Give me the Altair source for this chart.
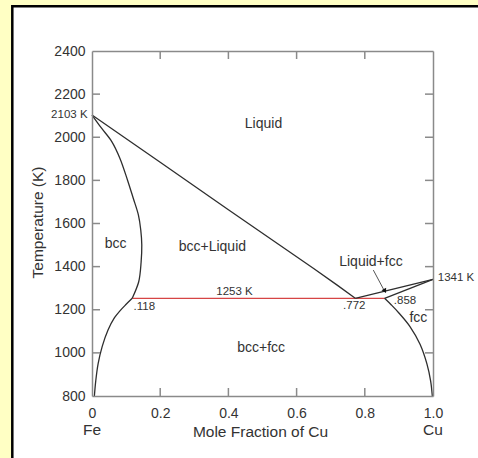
import altair as alt
import pandas as pd

# ---------------- data ----------------
# Liquidus (Fe side): from Fe melting point to eutectic liquid composition
liq_left_x = [0.0, 0.2, 0.4, 0.55, 0.65, 0.72, 0.772]
liq_left_t = [2103, 1884, 1664, 1500, 1391, 1313, 1253]

# bcc solidus (above the isotherm)
bcc_sol_x = [0.0, 0.028, 0.058, 0.082, 0.104, 0.121, 0.136, 0.143, 0.146, 0.144, 0.137, 0.118]
bcc_sol_t = [2103, 2042, 1980, 1902, 1802, 1717, 1640, 1570, 1500, 1420, 1330, 1253]

# bcc solvus (below the isotherm)
bcc_solv_x = [0.118, 0.098, 0.082, 0.066, 0.047, 0.030, 0.018, 0.011, 0.007]
bcc_solv_t = [1253, 1222, 1195, 1163, 1106, 1030, 950, 870, 800]

# Cu side liquidus and solidus
liq_right_x = [0.772, 1.0]
liq_right_t = [1253, 1341]
sol_right_x = [0.858, 1.0]
sol_right_t = [1253, 1341]

# fcc solvus
fcc_x = [0.858, 0.878, 0.900, 0.933, 0.962, 0.982, 0.993, 0.998]
fcc_t = [1253, 1222, 1185, 1121, 1040, 950, 870, 800]

# eutectic (peritectic) isotherm
iso_x = [0.118, 0.858]
iso_t = [1253, 1253]

# arrow from "Liquid+fcc" label
arrow_x = [0.825, 0.856]
arrow_t = [1384, 1292]
arrow_head_x = [0.859]
arrow_head_t = [1287]

# region labels
region_labels = ["Liquid", "bcc", "bcc+Liquid", "bcc+fcc", "Liquid+fcc", "fcc"]
region_x = [0.503, 0.069, 0.353, 0.496, 0.818, 0.957]
region_t = [2061, 1504, 1492, 1021, 1423, 1160]

# point labels
pt_labels = ["2103 K", "1341 K", "1253 K", ".118", ".772", ".858"]
pt_x = [-0.013, 1.014, 0.418, 0.122, 0.769, 0.918]
pt_t = [2103, 1345, 1284, 1211, 1218, 1241]
pt_align = ["right", "left", "center", "left", "center", "center"]

# end labels
end_labels = ["Fe", "Cu"]
end_x = [0.0, 1.0]

# axis ticks
x_ticks = [0.0, 0.2, 0.4, 0.6, 0.8, 1.0]
x_inner_ticks = [0.2, 0.4, 0.6, 0.8]
y_ticks = [800, 1000, 1200, 1400, 1600, 1800, 2000, 2200, 2400]
y_inner_ticks = [1000, 1200, 1400, 1600, 1800, 2000, 2200]

# ---------------- build ----------------
W, H = 341, 345
TEXT = "#333333"
AXIS = "#8a8a8a"
CURVE = "#2e2e2e"
FONT = "Liberation Sans"

xs = alt.Scale(domain=[0, 1], nice=False, zero=False)
ys = alt.Scale(domain=[800, 2400], nice=False, zero=False)


def X(field="x", axis=None):
    return alt.X(f"{field}:Q", scale=xs, axis=axis)


def Y(field="t", axis=None):
    return alt.Y(f"{field}:Q", scale=ys, axis=axis)


def curve_df(pairs):
    rows = []
    for name, xl, tl in pairs:
        for i, (a, b) in enumerate(zip(xl, tl)):
            rows.append({"curve": name, "i": i, "x": a, "t": b})
    return pd.DataFrame(rows)


straight_df = curve_df([("liq_left", liq_left_x, liq_left_t),
                        ("liq_right", liq_right_x, liq_right_t),
                        ("sol_right", sol_right_x, sol_right_t)])
smooth_df = curve_df([("bcc_sol", bcc_sol_x, bcc_sol_t),
                      ("bcc_solv", bcc_solv_x, bcc_solv_t),
                      ("fcc", fcc_x, fcc_t)])

frame = alt.Chart(pd.DataFrame({"a": [0]})).mark_rect(
    fill="white", stroke="#000000", strokeWidth=2.5
).encode(x=alt.value(-79.7), x2=alt.value(W + 200), y=alt.value(-44.8), y2=alt.value(H + 200))

iso = alt.Chart(pd.DataFrame({"x": iso_x, "t": iso_t})).mark_line(
    color="#d64545", strokeWidth=1.2
).encode(x=X(), y=Y())

straight = alt.Chart(straight_df).mark_line(color=CURVE, strokeWidth=1.3).encode(
    x=X(), y=Y(), detail="curve:N", order="i:Q"
)

smooth = alt.Chart(smooth_df).mark_line(color=CURVE, strokeWidth=1.3, interpolate="catmull-rom").encode(
    x=X(), y=Y(), detail="curve:N", order="i:Q"
)

arrow = alt.Chart(pd.DataFrame({"x": arrow_x, "t": arrow_t})).mark_line(
    color="#555555", strokeWidth=1
).encode(x=X(), y=Y())

arrow_head = alt.Chart(pd.DataFrame({"x": arrow_head_x, "t": arrow_head_t})).mark_point(
    shape="triangle-down", filled=True, size=28, angle=331, color="#111111", opacity=1
).encode(x=X(), y=Y())

regions = alt.Chart(pd.DataFrame({"label": region_labels, "x": region_x, "t": region_t})).mark_text(
    font=FONT, fontSize=14, color=TEXT, align="center", baseline="middle"
).encode(x=X(), y=Y(), text="label:N")

pts_df = pd.DataFrame({"label": pt_labels, "x": pt_x, "t": pt_t, "align": pt_align})
pt_layers = []
for al in ["left", "center", "right"]:
    sub = pts_df[pts_df["align"] == al]
    pt_layers.append(
        alt.Chart(sub).mark_text(font=FONT, fontSize=11.5, color=TEXT, align=al, baseline="middle")
        .encode(x=X(), y=Y(), text="label:N")
    )

ends = alt.Chart(pd.DataFrame({"label": end_labels, "x": end_x})).mark_text(
    font=FONT, fontSize=15.5, color=TEXT, align="center", baseline="middle"
).encode(x=X(), y=alt.value(378.5), text="label:N")

common_axis = dict(domainColor=AXIS, domainWidth=1.5, ticks=False, tickSize=0, grid=False, zindex=1)

bottom_ticks = alt.Chart(pd.DataFrame({"x": x_inner_ticks})).mark_rule(color=AXIS, strokeWidth=1.5).encode(
    x=X(axis=alt.Axis(orient="bottom", values=x_ticks,
                      labelExpr="datum.value == 0 ? '0' : format(datum.value, '.1f')",
                      labelFont=FONT, labelFontSize=14, labelColor=TEXT, labelPadding=10,
                      labelFlush=False, title="Mole Fraction of Cu", titleFont=FONT,
                      titleFontSize=15.5, titleFontWeight="normal", titleColor=TEXT,
                      titleX=168, titleY=35, titleBaseline="middle", titleAlign="center",
                      **common_axis)),
    y=alt.value(H), y2=alt.value(H - 8),
)

top_ticks = alt.Chart(pd.DataFrame({"x": x_inner_ticks})).mark_rule(color=AXIS, strokeWidth=1.5).encode(
    x=X(axis=alt.Axis(orient="top", labels=False, title="", **common_axis)),
    y=alt.value(0), y2=alt.value(8),
)

left_ticks = alt.Chart(pd.DataFrame({"t": y_inner_ticks})).mark_rule(color=AXIS, strokeWidth=1.5).encode(
    y=Y(axis=alt.Axis(orient="left", values=y_ticks, format="d",
                      labelFont=FONT, labelFontSize=14, labelColor=TEXT, labelPadding=7,
                      labelFlush=False, title="Temperature (K)", titleFont=FONT,
                      titleFontSize=15.5, titleFontWeight="normal", titleColor=TEXT,
                      titleAngle=270, titleX=-55, titleY=171, titleBaseline="middle",
                      titleAlign="center", **common_axis)),
    x=alt.value(0), x2=alt.value(8),
)

right_ticks = alt.Chart(pd.DataFrame({"t": y_inner_ticks})).mark_rule(color=AXIS, strokeWidth=1.5).encode(
    y=Y(axis=alt.Axis(orient="right", labels=False, title="", **common_axis)),
    x=alt.value(W), x2=alt.value(W - 8),
)

chart = alt.layer(
    frame, iso, straight, smooth, arrow, arrow_head, regions, *pt_layers, ends,
    bottom_ticks, top_ticks, left_ticks, right_ticks,
).resolve_axis(x="independent", y="independent").properties(
    width=W, height=H,
    padding={"left": 92, "top": 51, "right": 45, "bottom": 62},
    autosize=alt.AutoSizeParams(type="none"),
    background="#ffffc4",
).configure_view(strokeWidth=0).configure(font=FONT)

chart.save("out.html", embed_options={"renderer": "svg", "actions": False})
